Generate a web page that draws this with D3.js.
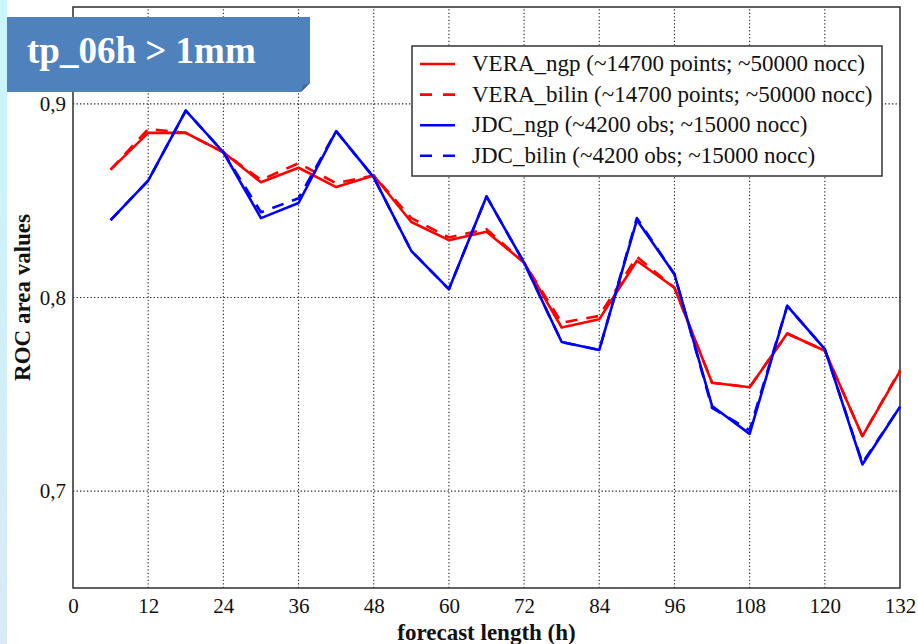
<!DOCTYPE html>
<html>
<head>
<meta charset="utf-8">
<script src="https://cdn.jsdelivr.net/npm/d3@7"></script>
<style>
  html, body { margin: 0; padding: 0; background: #ffffff; }
  svg { display: block; }
  text { font-family: "Liberation Serif", "DejaVu Serif", serif; }
</style>
</head>
<body>
<svg id="chart" width="918" height="644"></svg>
<script>
// Forecast lead times (hours)
const leadTimes = [6, 12, 18, 24, 30, 36, 42, 48, 54, 60, 66, 72, 78, 84, 90, 96, 102, 108, 114, 120, 126, 132];

// ROC area values per verification set
const veraNgp   = [0.866, 0.885, 0.885, 0.875, 0.8595, 0.867, 0.857, 0.863, 0.839, 0.8296, 0.834, 0.818, 0.7845, 0.7888, 0.819, 0.805, 0.756, 0.7537, 0.7814, 0.7725, 0.7284, 0.762];
const veraBilin = [0.866, 0.887, 0.885, 0.875, 0.8607, 0.8693, 0.859, 0.863, 0.841, 0.831, 0.8353, 0.818, 0.787, 0.7905, 0.821, 0.805, 0.756, 0.7537, 0.7814, 0.7725, 0.7284, 0.7625];
const jdcNgp    = [0.840, 0.8603, 0.8965, 0.875, 0.841, 0.8488, 0.8859, 0.862, 0.824, 0.8043, 0.8522, 0.818, 0.777, 0.7729, 0.840, 0.812, 0.744, 0.7296, 0.7957, 0.7733, 0.7138, 0.7436];
const jdcBilin  = [0.840, 0.8603, 0.8965, 0.875, 0.844, 0.8512, 0.8859, 0.862, 0.824, 0.8043, 0.8522, 0.818, 0.777, 0.7729, 0.841, 0.812, 0.743, 0.7315, 0.7957, 0.7733, 0.7145, 0.7436];

const seriesNames = [
  "VERA_ngp (~14700 points; ~50000 nocc)",
  "VERA_bilin (~14700 points; ~50000 nocc)",
  "JDC_ngp (~4200 obs; ~15000 nocc)",
  "JDC_bilin (~4200 obs; ~15000 nocc)"
];

const xTicks = [0, 12, 24, 36, 48, 60, 72, 84, 96, 108, 120, 132];
const yTicks = [0.7, 0.8, 0.9];
const yTickLabels = ["0,7", "0,8", "0,9"];

const titleText = "tp_06h > 1mm";
const xLabel = "forecast length (h)";
const yLabel = "ROC area values";

const series = [
  { name: seriesNames[0], values: veraNgp,   color: "#ff0000", dash: null },
  { name: seriesNames[1], values: veraBilin, color: "#ff0000", dash: "12,9" },
  { name: seriesNames[2], values: jdcNgp,    color: "#0000ff", dash: null },
  { name: seriesNames[3], values: jdcBilin,  color: "#0000ff", dash: "12,9" }
];

const svg = d3.select("#chart");
const W = 918, H = 644;
const margin = { left: 73, right: 18, top: 7, bottom: 56 };
const plotW = W - margin.left - margin.right;
const plotH = H - margin.top - margin.bottom;

// Slide-style side strip on the left edge
const defs = svg.append("defs");
const grad = defs.append("linearGradient").attr("id", "strip").attr("x1", 0).attr("y1", 0).attr("x2", 0).attr("y2", 1);
grad.append("stop").attr("offset", "0%").attr("stop-color", "#c8f6fb");
grad.append("stop").attr("offset", "100%").attr("stop-color", "#d9e9f6");
svg.append("rect").attr("x", 0).attr("y", 0).attr("width", 7).attr("height", H).attr("fill", "url(#strip)");

const x = d3.scaleLinear().domain([0, 132]).range([margin.left, margin.left + plotW]);
const y = d3.scaleLinear().domain([0.65, 0.95]).range([margin.top + plotH, margin.top]);

const g = svg.append("g");

// Dotted grid
g.append("g").selectAll("line.vg")
  .data(xTicks.filter(t => t > 0 && t < 132))
  .join("line")
  .attr("x1", d => x(d)).attr("x2", d => x(d))
  .attr("y1", y(0.65)).attr("y2", y(0.95))
  .attr("stroke", "#222").attr("stroke-width", 1.1).attr("stroke-dasharray", "1.3,2.2");
g.append("g").selectAll("line.hg")
  .data(yTicks)
  .join("line")
  .attr("x1", x(0)).attr("x2", x(132))
  .attr("y1", d => y(d)).attr("y2", d => y(d))
  .attr("stroke", "#222").attr("stroke-width", 1.1).attr("stroke-dasharray", "1.3,2.2");

// Axes (labels only; frame drawn separately)
const xAxis = d3.axisBottom(x).tickValues(xTicks).tickSize(0).tickPadding(10).tickFormat(d3.format("d"));
const gx = g.append("g").attr("transform", `translate(0,${y(0.65)})`).call(xAxis);
gx.select(".domain").remove();
gx.selectAll("text").attr("font-size", 21).attr("fill", "#111").attr("font-family", "Liberation Serif, serif");

const yAxis = d3.axisLeft(y).tickValues(yTicks).tickSize(0).tickPadding(7)
  .tickFormat((d, i) => yTickLabels[i]);
const gy = g.append("g").attr("transform", `translate(${x(0)},0)`).call(yAxis);
gy.select(".domain").remove();
gy.selectAll("text").attr("font-size", 21).attr("fill", "#111").attr("font-family", "Liberation Serif, serif");

// Plot frame
g.append("rect")
  .attr("x", x(0)).attr("y", y(0.95))
  .attr("width", x(132) - x(0)).attr("height", y(0.65) - y(0.95))
  .attr("fill", "none").attr("stroke", "#3a3a3a").attr("stroke-width", 1.6);

// Series lines
const line = d3.line().x((d, i) => x(leadTimes[i])).y(d => y(d));
g.append("g").selectAll("path.series")
  .data(series)
  .join("path")
  .attr("d", d => line(d.values))
  .attr("fill", "none")
  .attr("stroke", d => d.color)
  .attr("stroke-width", 2.6)
  .attr("stroke-linejoin", "round")
  .attr("stroke-dasharray", d => d.dash);

// Legend
const lg = svg.append("g");
const lgX = 412, lgY = 46, lgW = 470, lgH = 130, rowH = 30.6;
lg.append("rect").attr("x", lgX).attr("y", lgY).attr("width", lgW).attr("height", lgH)
  .attr("fill", "#ffffff").attr("stroke", "#333").attr("stroke-width", 1.5);
series.forEach((s, i) => {
  const cy = lgY + 18 + i * rowH;
  lg.append("line").attr("x1", lgX + 8).attr("x2", lgX + 43).attr("y1", cy).attr("y2", cy)
    .attr("stroke", s.color).attr("stroke-width", 2.6)
    .attr("stroke-dasharray", s.dash ? "12,11" : null);
  lg.append("text").attr("x", lgX + 60).attr("y", cy + 7)
    .attr("font-size", 23).attr("fill", "#111").text(s.name);
});

// Axis titles
svg.append("text").attr("x", (x(0) + x(132)) / 2).attr("y", 640)
  .attr("text-anchor", "middle").attr("font-size", 23).attr("font-weight", "bold").attr("fill", "#111")
  .text(xLabel);
svg.append("text").attr("transform", `translate(30,${y(0.80)}) rotate(-90)`)
  .attr("text-anchor", "middle").attr("font-size", 23).attr("font-weight", "bold").attr("fill", "#111")
  .text(yLabel);

// Title tag with folded corner
const tb = { x: 7, y: 17, w: 303, h: 75, fold: 9 };
svg.append("path")
  .attr("d", `M${tb.x},${tb.y} H${tb.x + tb.w} V${tb.y + tb.h - tb.fold} L${tb.x + tb.w - tb.fold},${tb.y + tb.h} H${tb.x} Z`)
  .attr("fill", "#4f81bd");
svg.append("path")
  .attr("d", `M${tb.x + tb.w},${tb.y + tb.h - tb.fold} L${tb.x + tb.w - tb.fold},${tb.y + tb.h} L${tb.x + tb.w - tb.fold + 2},${tb.y + tb.h - tb.fold + 2} Z`)
  .attr("fill", "#3d6899");
svg.append("text").attr("x", 27).attr("y", 63)
  .attr("font-size", 37).attr("font-weight", "bold").attr("fill", "#ffffff")
  .text(titleText);
</script>
</body>
</html>
